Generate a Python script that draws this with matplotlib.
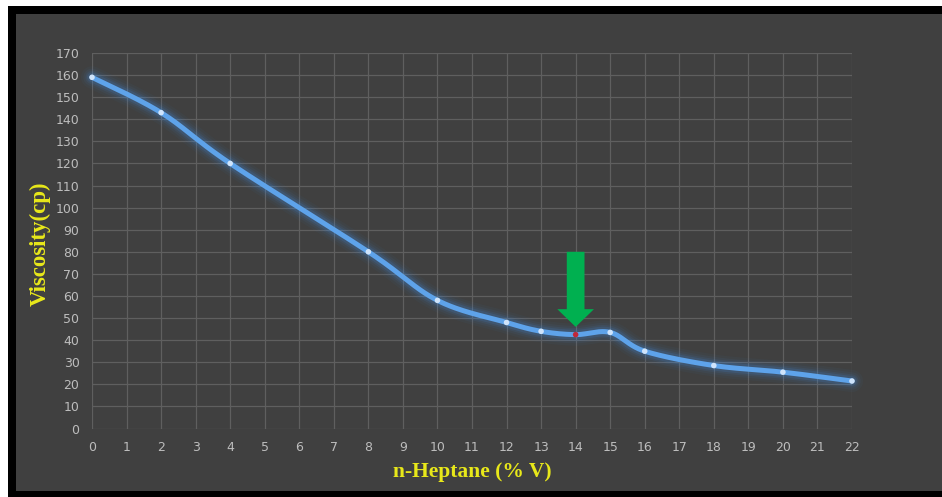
import numpy as np
import matplotlib
matplotlib.use("Agg")
import matplotlib.pyplot as plt
from matplotlib.patches import Rectangle

# n-Heptane content (% V) and measured viscosity (cp)
heptane = [0, 2, 4, 8, 10, 12, 13, 14, 15, 16, 18, 20, 22]
viscosity = [159, 143, 120, 80, 58, 48, 44, 42.5, 43.5, 35, 28.5, 25.5, 21.5]
highlight_x = 14

x_ticks = list(range(0, 23))
y_ticks = list(range(0, 171, 10))


def smooth_curve(xs, ys, n=40):
    """Catmull-Rom style smoothing through every point (Bezier segments)."""
    xs = np.asarray(xs, float)
    ys = np.asarray(ys, float)
    px, py = [], []
    m = len(xs)
    for i in range(m - 1):
        x0, y0 = (xs[i - 1], ys[i - 1]) if i > 0 else (xs[i], ys[i])
        x1, y1 = xs[i], ys[i]
        x2, y2 = xs[i + 1], ys[i + 1]
        x3, y3 = (xs[i + 2], ys[i + 2]) if i + 2 < m else (xs[i + 1], ys[i + 1])
        c1x, c1y = x1 + (x2 - x0) / 6, y1 + (y2 - y0) / 6
        c2x, c2y = x2 - (x3 - x1) / 6, y2 - (y3 - y1) / 6
        t = np.linspace(0, 1, n, endpoint=(i == m - 2))
        b0, b1, b2, b3 = (1 - t) ** 3, 3 * (1 - t) ** 2 * t, 3 * (1 - t) * t ** 2, t ** 3
        px.append(b0 * x1 + b1 * c1x + b2 * c2x + b3 * x2)
        py.append(b0 * y1 + b1 * c1y + b2 * c2y + b3 * y2)
    return np.concatenate(px), np.concatenate(py)


W, H = 942, 497
fig = plt.figure(figsize=(W / 100, H / 100), dpi=100, facecolor="white")

# Frame: black border with dark panel inside
fig.patches.append(Rectangle((8 / W, 0), 1 - 8 / W, 1 - 6 / H,
                             transform=fig.transFigure, facecolor="black",
                             edgecolor="none", zorder=-3))
fig.patches.append(Rectangle((16 / W, 6 / H), 1 - 16 / W, 1 - 20 / H,
                             transform=fig.transFigure, facecolor="#404040",
                             edgecolor="none", zorder=-2))

ax = fig.add_axes([92 / W, 1 - 428.5 / H, 760 / W, 375.5 / H])
ax.set_facecolor("#404040")
ax.set_xlim(0, 22)
ax.set_ylim(0, 170)
ax.set_xticks(x_ticks)
ax.set_yticks(y_ticks)
ax.grid(True, color="#5f5f5f", linewidth=0.9)
ax.set_axisbelow(True)
for s in ax.spines.values():
    s.set_visible(False)
ax.tick_params(length=0, colors="#bdbdbd", labelsize=9, pad=9)
ax.tick_params(axis="y", pad=9)

sx, sy = smooth_curve(heptane, viscosity)

# Soft glow beneath the curve
for lw, a in [(16, 0.04), (12.5, 0.06), (9.5, 0.09), (7, 0.15)]:
    ax.plot(sx, sy, color="#3f8fe8", linewidth=lw, alpha=a,
            solid_capstyle="round", zorder=2, clip_on=False)
ax.plot(sx, sy, color="#5ea3ea", linewidth=3.6, solid_capstyle="round",
        zorder=3, clip_on=False)

# Data point markers
colors = ["#cfe4fb" if x != highlight_x else "#c0283a" for x in heptane]
ax.scatter(heptane, viscosity, s=16, c=colors, zorder=4, linewidths=0,
           clip_on=False)

# Green arrow pointing at the highlighted point
hi = heptane.index(highlight_x)
ax.annotate("", xy=(highlight_x, viscosity[hi] + 3.5),
            xytext=(highlight_x, viscosity[hi] + 37.5),
            arrowprops=dict(arrowstyle="simple,head_width=1.55,head_length=0.75,tail_width=0.75",
                            facecolor="#00b050", edgecolor="none", mutation_scale=17,
                            shrinkA=0, shrinkB=0),
            zorder=5)

label_font = dict(family="Liberation Serif", fontweight="bold", color="#e8e81a",
                  fontsize=15.5)
fig.text(472 / W, 1 - 472 / H, "n-Heptane (% V)", ha="center", va="center",
         **label_font)
fig.text(40 / W, 1 - 244 / H, "Viscosity(cp)", ha="center", va="center",
         rotation=90, **dict(label_font, fontsize=16.5))

fig.savefig("out.png", dpi=100, facecolor=fig.get_facecolor())
